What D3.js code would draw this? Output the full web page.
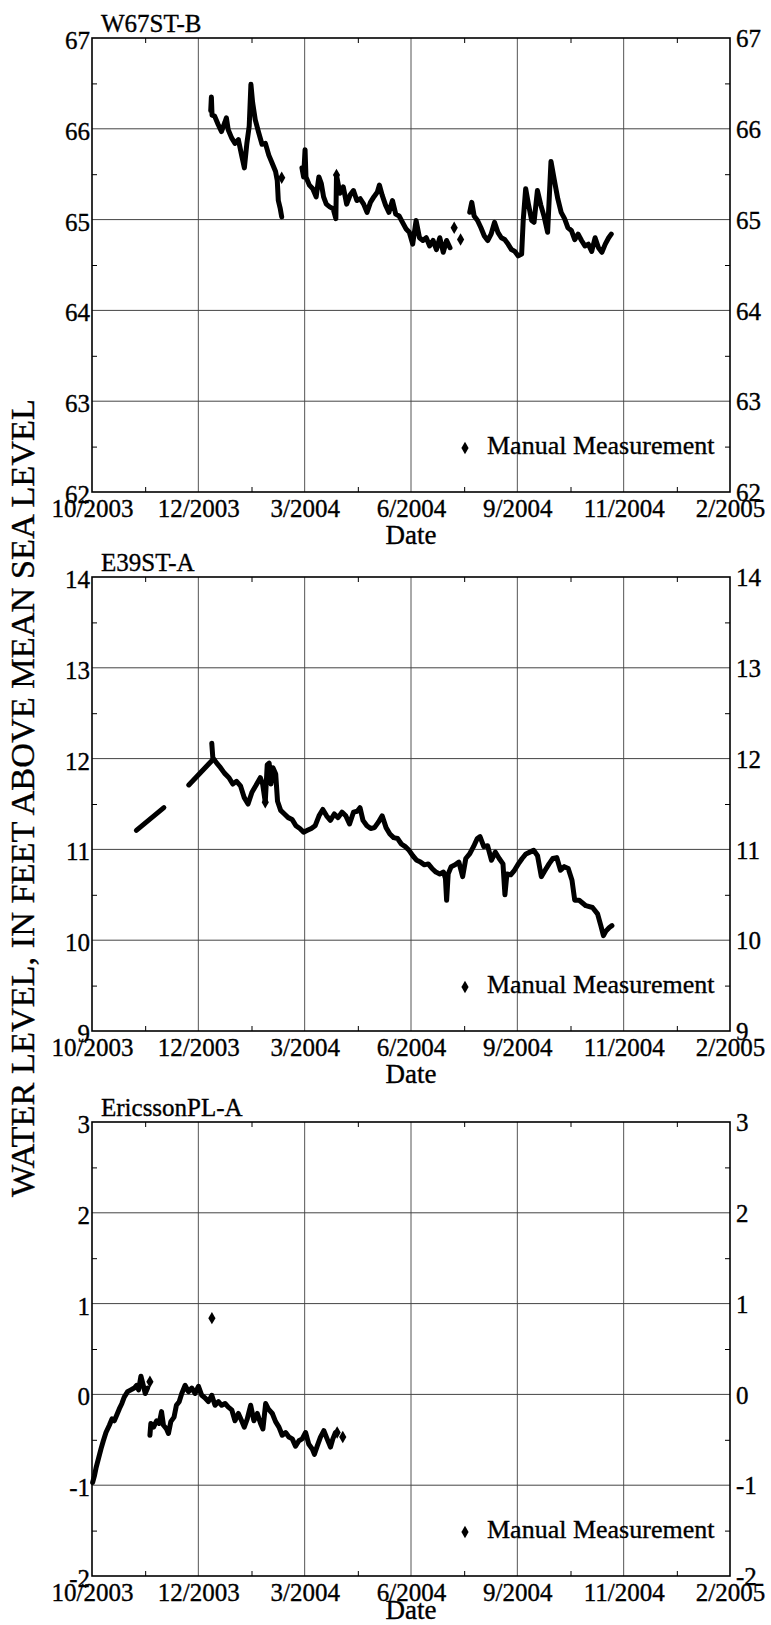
<!DOCTYPE html>
<html>
<head>
<meta charset="utf-8">
<script src="https://cdn.jsdelivr.net/npm/d3@7"></script>
<style>
  body { margin: 0; background: #fff; }
  svg text { font-family: "Liberation Serif", "Times New Roman", Times, "DejaVu Serif", serif; fill: #000; stroke: #000; stroke-width: 0.35px; }
</style>
</head>
<body>
<div id="plot"></div>
<script>
// x values are days after 10/1/2003, y values are feet above mean sea level
const startDate = new Date(2003, 9, 1);
const spanDays = 489;
const dateLabels = ["10/2003", "12/2003", "3/2004", "6/2004", "9/2004", "11/2004", "2/2005"];

// W67ST-B
const w67Seg1 = [[91,66.2],[91.5,66.35],[92,66.15],[94,66.14],[96.6,66.05],[99.2,65.97],[101.8,66.07],[103,66.12],[104.4,65.99],[107,65.9],[109.6,65.84],[112.2,65.88],[114.8,65.7],[116.8,65.57],[118.7,65.84],[120.5,66.03],[121.8,66.49],[123.1,66.29],[125.1,66.1],[127.7,65.96],[130.3,65.83],[132.9,65.84],[135.5,65.71],[138.1,65.62],[140.7,65.53],[142,65.43],[142.8,65.21],[144.3,65.12],[145.4,65.03]];
const w67Seg2 = [[160.9,65.57],[162.2,65.47],[163.3,65.77],[164,65.47],[166.6,65.38],[169.2,65.34],[171.8,65.25],[173.9,65.47],[175.7,65.4],[177.5,65.25],[179.6,65.17],[182.2,65.14],[184.8,65.12],[186.9,65.01],[187.4,65.49],[190,65.29],[192.6,65.36],[195.2,65.17],[197.8,65.27],[200.4,65.32],[203,65.21],[205.6,65.23],[208.2,65.17],[210.8,65.08],[213.4,65.19],[216,65.25],[218.6,65.3],[220.3,65.38],[222.4,65.27],[225,65.16],[227.6,65.08],[230.3,65.21],[232.8,65.06],[235.4,65.04],[238,64.97],[240.6,64.9],[243.2,64.86],[245.8,64.73],[248.4,64.99],[251,64.8],[253.6,64.77],[256.2,64.8],[258.8,64.71],[261.4,64.77],[264,64.67],[266.6,64.8],[269.2,64.64],[271.8,64.77],[274.4,64.69]];
const w67Seg3 = [[289.5,65.08],[291.1,65.19],[292.9,65.04],[295.5,64.99],[298.1,64.91],[300.7,64.82],[303.3,64.77],[305.9,64.84],[308.5,64.97],[311.1,64.86],[313.7,64.8],[316.3,64.78],[318.9,64.73],[321.5,64.67],[324.1,64.65],[326.7,64.6],[329.3,64.62],[330.5,64.99],[332.4,65.34],[334.5,65.17],[337,64.99],[338.8,64.97],[341.4,65.32],[344,65.16],[346.6,65.03],[349.2,64.86],[351.8,65.64],[354.4,65.43],[357,65.23],[359.6,65.08],[362.2,65.01],[364.8,64.91],[367.4,64.88],[370,64.78],[372.6,64.84],[375.2,64.77],[377.8,64.71],[380.4,64.73],[383,64.65],[385.6,64.8],[388.2,64.69],[390.8,64.64],[393.4,64.73],[396,64.8],[398,64.84]];
const w67Manual = [[145.4,65.46],[187.4,65.49],[277.6,64.91],[282.5,64.78]];

// E39ST-A
const e39Seg1 = [[34,11.21],[55.1,11.46]];
const e39Seg2 = [[74.2,11.71],[92,11.98]];
const e39Seg3 = [[91.8,12.17],[92.6,12.01],[95.6,11.95],[98.5,11.9],[101.5,11.84],[105,11.79],[107.9,11.72],[110.8,11.75],[113.8,11.7],[116.7,11.57],[119.6,11.5],[122.6,11.63],[125.5,11.7],[129,11.79],[130.8,11.72],[132.8,11.52],[134.3,11.93],[135.8,11.95],[137.2,11.72],[138.7,11.9],[140.8,11.83],[142.2,11.53],[144.6,11.43],[147.5,11.39],[150.4,11.35],[153.4,11.33],[156.3,11.26],[159.3,11.23],[162.2,11.19],[165.1,11.21],[168.1,11.23],[171,11.26],[174,11.37],[176.9,11.44],[179.8,11.37],[182.7,11.32],[185.7,11.39],[188.6,11.35],[191.6,11.41],[194.5,11.37],[197.4,11.28],[200.4,11.41],[203.3,11.42],[205.4,11.46],[207.7,11.32],[210.7,11.26],[213.6,11.23],[216.5,11.24],[219.5,11.3],[222.4,11.37],[225.4,11.24],[228.3,11.17],[231.2,11.13],[234.2,11.12],[237.1,11.06],[240.1,11.03],[243,10.99],[245.9,10.93],[248.9,10.88],[251.8,10.86],[254.8,10.83],[257.7,10.84],[260.6,10.79],[263.6,10.75],[266.5,10.73],[269.4,10.75],[270.9,10.68],[271.8,10.44],[273,10.73],[275.3,10.81],[278.3,10.83],[281.2,10.86],[284.1,10.7],[286.5,10.9],[289.4,10.95],[292.4,11.03],[295.3,11.12],[297.4,11.14],[300.3,11.03],[303.2,11.04],[306.2,10.88],[309.1,10.97],[312.1,10.9],[315,10.84],[316.5,10.5],[318,10.73],[320.9,10.72],[323.8,10.77],[326.8,10.84],[329.7,10.9],[332.6,10.95],[335.6,10.97],[338.5,10.99],[341.5,10.93],[344.4,10.7],[347.3,10.77],[350.3,10.84],[353.2,10.9],[356.2,10.91],[359.1,10.77],[362,10.81],[365,10.79],[367.9,10.66],[370,10.44],[373.4,10.44],[378.5,10.38],[383.6,10.36],[387.5,10.29],[390,10.16],[392,10.05],[393.9,10.1],[396.5,10.14],[398.5,10.16]];
const e39Manual = [[132.8,11.52]];

// EricssonPL-A
const ericSeg1 = [[0.5,-0.97],[1.8,-0.9],[3.1,-0.81],[5.1,-0.7],[6.9,-0.6],[8.7,-0.51],[10.7,-0.42],[13.3,-0.34],[15.3,-0.27],[17.1,-0.29],[18.9,-0.23],[20.9,-0.16],[22.9,-0.1],[24.7,-0.03],[27.3,0.03],[29.8,0.05],[32.4,0.07],[34.2,0.1],[35.7,0.05],[37.5,0.2],[39.3,0.1],[40.8,0.01],[42.6,0.07]];
const ericSeg2 = [[44.4,-0.45],[45.1,-0.32],[47.2,-0.36],[49.5,-0.29],[51.5,-0.32],[53.3,-0.19],[54.8,-0.34],[57.1,-0.38],[58.6,-0.43],[60.4,-0.3],[62.9,-0.25],[64.7,-0.12],[66.8,-0.08],[68.8,0.01],[71.4,0.1],[73.9,0.03],[76.5,0.07],[79,0.01],[81.6,0.09],[84.1,-0.01],[86.7,-0.04],[89.2,-0.08],[91.8,-0.01],[94.3,-0.12],[96.9,-0.08],[99.4,-0.12],[102,-0.1],[104.5,-0.14],[107.1,-0.17],[109.6,-0.29],[112.2,-0.21],[114.7,-0.29],[116.7,-0.36],[119,-0.27],[121.6,-0.12],[124.1,-0.29],[126.7,-0.21],[129.2,-0.32],[131,-0.38],[133.1,-0.1],[135.1,-0.16],[138.2,-0.21],[140.7,-0.3],[143.3,-0.36],[145.8,-0.45],[148.4,-0.42],[150.9,-0.47],[153.5,-0.49],[156,-0.57],[158.6,-0.51],[161.1,-0.49],[163.7,-0.42],[166.2,-0.55],[168.8,-0.6],[170.5,-0.66],[172.6,-0.57],[175.1,-0.47],[177.7,-0.4],[180.2,-0.49],[182.8,-0.58],[184.6,-0.49],[186.6,-0.42]];
const ericManual = [[44.4,0.14],[91.9,0.84],[187.9,-0.42],[192.2,-0.47]];

const panels = [
  { title: "W67ST-B", top: 38, yDomain: [62, 67], segments: [w67Seg1, w67Seg2, w67Seg3], manual: w67Manual, dateDy: 52 },
  { title: "E39ST-A", top: 577, yDomain: [9, 14], segments: [e39Seg1, e39Seg2, e39Seg3], manual: e39Manual, dateDy: 52 },
  { title: "EricssonPL-A", top: 1122, yDomain: [-2, 3], segments: [ericSeg1, ericSeg2], manual: ericManual, dateDy: 43 }
];

const W = 771, H = 1625;
const left = 92, width = 638, height = 454;

const svg = d3.select("#plot").append("svg")
    .attr("width", W)
    .attr("height", H);

const toDate = d => new Date(startDate.getTime() + d * 864e5);
const endDate = toDate(spanDays);

const x = d3.scaleTime().domain([startDate, endDate]).range([0, width]);
const majorX = d3.range(dateLabels.length).map(i => toDate(spanDays * i / (dateLabels.length - 1)));
const minorX = d3.range(dateLabels.length - 1).map(i => toDate(spanDays * (i + 0.5) / (dateLabels.length - 1)));

// y axis title shared by all panels
svg.append("text")
    .attr("transform", "translate(34,798) rotate(-90)")
    .attr("text-anchor", "middle")
    .attr("font-size", "34px")
    .attr("textLength", 798)
    .attr("lengthAdjust", "spacingAndGlyphs")
    .text("WATER LEVEL, IN FEET ABOVE MEAN SEA LEVEL");

panels.forEach(p => {
    const g = svg.append("g").attr("transform", `translate(${left},${p.top})`);
    const y = d3.scaleLinear().domain(p.yDomain).range([height, 0]);
    const majorY = d3.range(p.yDomain[0], p.yDomain[1] + 1);
    const minorY = d3.range(p.yDomain[0] + 0.5, p.yDomain[1], 1);

    // grid
    g.append("g").selectAll("line")
        .data(majorX.slice(1, -1))
        .join("line")
        .attr("x1", d => x(d)).attr("x2", d => x(d))
        .attr("y1", 0).attr("y2", height)
        .attr("stroke", "#555").attr("stroke-width", 1);
    g.append("g").selectAll("line")
        .data(majorY.slice(1, -1))
        .join("line")
        .attr("x1", 0).attr("x2", width)
        .attr("y1", d => y(d)).attr("y2", d => y(d))
        .attr("stroke", "#444").attr("stroke-width", 1);

    // minor inward ticks
    g.append("g").call(d3.axisLeft(y).tickValues(minorY).tickSize(-5).tickFormat(""))
        .call(a => a.select(".domain").remove());
    g.append("g").attr("transform", `translate(${width},0)`)
        .call(d3.axisRight(y).tickValues(minorY).tickSize(-5).tickFormat(""))
        .call(a => a.select(".domain").remove());
    g.append("g").attr("transform", `translate(0,${height})`)
        .call(d3.axisBottom(x).tickValues(minorX).tickSize(-5).tickFormat(""))
        .call(a => a.select(".domain").remove());
    g.append("g")
        .call(d3.axisTop(x).tickValues(minorX).tickSize(-5).tickFormat(""))
        .call(a => a.select(".domain").remove());

    // tick labels
    g.append("g").attr("transform", "translate(-2,0)")
        .call(d3.axisLeft(y).tickValues(majorY).tickSize(0).tickPadding(0).tickFormat(d => String(d)))
        .call(a => a.select(".domain").remove())
        .call(a => a.selectAll("text").attr("font-size", "25px").attr("dy", "0.42em"));
    g.append("g").attr("transform", `translate(${width + 6},0)`)
        .call(d3.axisRight(y).tickValues(majorY).tickSize(0).tickPadding(0).tickFormat(d => String(d)))
        .call(a => a.select(".domain").remove())
        .call(a => a.selectAll("text").attr("font-size", "25px").attr("dy", "0.35em"));
    g.append("g").attr("transform", `translate(0,${height})`)
        .call(d3.axisBottom(x).tickValues(majorX).tickSize(0).tickPadding(7).tickFormat((d, i) => dateLabels[i]))
        .call(a => a.select(".domain").remove())
        .call(a => a.selectAll("text").attr("font-size", "25px"));
    g.selectAll("g").attr("font-family", null);

    // frame
    g.append("rect")
        .attr("width", width).attr("height", height)
        .attr("fill", "none").attr("stroke", "#000").attr("stroke-width", 1.6);

    // water level trace
    const line = d3.line().x(d => x(toDate(d[0]))).y(d => y(d[1]));
    g.selectAll("path.trace")
        .data(p.segments)
        .join("path")
        .attr("class", "trace")
        .attr("d", line)
        .attr("fill", "none")
        .attr("stroke", "#000")
        .attr("stroke-width", 5)
        .attr("stroke-linejoin", "round")
        .attr("stroke-linecap", "round");

    // manual measurements
    const diamond = d3.symbol().type(d3.symbolDiamond).size(45);
    g.selectAll("path.manual")
        .data(p.manual)
        .join("path")
        .attr("class", "manual")
        .attr("transform", d => `translate(${x(toDate(d[0]))},${y(d[1])})`)
        .attr("d", diamond)
        .attr("fill", "#000");

    // legend
    g.append("path")
        .attr("transform", `translate(${width - 265},${height - 44})`)
        .attr("d", diamond)
        .attr("fill", "#000");
    g.append("text")
        .attr("x", width - 243)
        .attr("y", height - 38)
        .attr("font-size", "26px")
        .text("Manual Measurement");

    // panel title and x label
    g.append("text")
        .attr("x", 9)
        .attr("y", -6)
        .attr("font-size", "25px")
        .text(p.title);
    g.append("text")
        .attr("x", width / 2)
        .attr("y", height + p.dateDy)
        .attr("text-anchor", "middle")
        .attr("font-size", "27px")
        .text("Date");
});
</script>
</body>
</html>
